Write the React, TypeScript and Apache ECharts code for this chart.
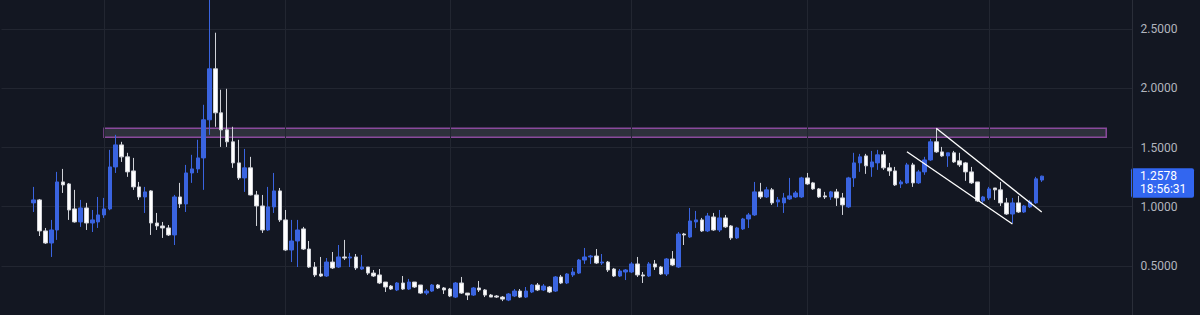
import { useEffect, useRef } from 'react';
import * as echarts from 'echarts';

// daily candles, first one on 2020-12-20: [open, close, low, high]
const ohlc: number[][] = [
  [1.032, 1.057, 0.955, 1.167], [1.057, 0.795, 0.752, 1.065], [0.795, 0.693, 0.685, 0.820], [0.693, 0.803, 0.575, 0.888],
  [0.803, 1.209, 0.719, 1.294], [1.209, 1.184, 1.116, 1.319], [1.192, 0.972, 0.888, 1.200], [0.981, 0.871, 0.865, 1.142],
  [0.871, 0.989, 0.829, 1.057], [0.989, 0.862, 0.803, 1.032], [0.862, 0.888, 0.786, 0.972], [0.871, 0.930, 0.820, 1.082],
  [0.930, 0.981, 0.905, 1.074], [0.981, 1.336, 0.970, 1.480], [1.336, 1.522, 1.285, 1.607], [1.522, 1.421, 1.378, 1.548],
  [1.421, 1.294, 1.252, 1.455], [1.302, 1.167, 1.142, 1.412], [1.167, 1.082, 1.057, 1.209], [1.082, 1.125, 0.947, 1.167],
  [1.133, 0.862, 0.761, 1.140], [0.862, 0.837, 0.803, 0.947], [0.837, 0.820, 0.736, 0.871], [0.820, 0.761, 0.752, 0.845],
  [0.761, 1.082, 0.676, 1.099], [1.082, 1.023, 0.989, 1.201], [1.023, 1.285, 0.955, 1.353], [1.285, 1.319, 1.201, 1.438],
  [1.319, 1.412, 1.285, 1.565], [1.412, 1.734, 1.142, 1.861], [1.734, 2.165, 1.607, 2.800], [2.165, 1.793, 1.675, 2.470],
  [1.793, 1.649, 1.505, 1.988], [1.649, 1.548, 1.505, 1.996], [1.548, 1.370, 1.328, 1.675], [1.370, 1.243, 1.226, 1.565],
  [1.243, 1.328, 1.125, 1.488], [1.328, 1.099, 1.095, 1.421], [1.099, 1.006, 0.837, 1.133], [1.006, 0.803, 0.778, 1.099],
  [0.803, 0.998, 0.795, 1.167], [0.998, 1.133, 0.947, 1.285], [1.133, 0.888, 0.871, 1.158], [0.888, 0.634, 0.626, 0.972],
  [0.634, 0.710, 0.532, 0.888], [0.710, 0.803, 0.490, 0.888], [0.812, 0.642, 0.634, 0.829], [0.642, 0.490, 0.482, 0.710],
  [0.490, 0.423, 0.406, 0.532], [0.431, 0.414, 0.406, 0.575], [0.414, 0.532, 0.406, 0.566], [0.532, 0.482, 0.473, 0.617],
  [0.490, 0.575, 0.482, 0.676], [0.575, 0.566, 0.549, 0.719], [0.566, 0.575, 0.490, 0.609], [0.575, 0.482, 0.465, 0.600],
  [0.473, 0.490, 0.465, 0.592], [0.490, 0.439, 0.423, 0.490], [0.439, 0.414, 0.406, 0.465], [0.423, 0.355, 0.346, 0.473],
  [0.363, 0.321, 0.279, 0.363], [0.329, 0.304, 0.296, 0.338], [0.296, 0.355, 0.287, 0.363], [0.355, 0.304, 0.296, 0.414],
  [0.304, 0.363, 0.296, 0.389], [0.363, 0.321, 0.313, 0.363], [0.338, 0.270, 0.262, 0.338], [0.270, 0.287, 0.253, 0.304],
  [0.287, 0.338, 0.279, 0.346], [0.338, 0.313, 0.304, 0.346], [0.313, 0.296, 0.262, 0.321], [0.304, 0.245, 0.236, 0.313],
  [0.236, 0.355, 0.228, 0.363], [0.355, 0.270, 0.262, 0.406], [0.270, 0.253, 0.211, 0.270], [0.253, 0.313, 0.245, 0.321],
  [0.313, 0.296, 0.279, 0.372], [0.296, 0.253, 0.236, 0.304], [0.253, 0.236, 0.236, 0.262], [0.245, 0.236, 0.228, 0.253],
  [0.236, 0.219, 0.202, 0.245], [0.211, 0.262, 0.202, 0.270], [0.245, 0.287, 0.236, 0.304], [0.287, 0.236, 0.228, 0.304],
  [0.236, 0.287, 0.228, 0.321], [0.279, 0.338, 0.270, 0.346], [0.338, 0.296, 0.287, 0.355], [0.296, 0.329, 0.287, 0.346],
  [0.321, 0.279, 0.270, 0.329], [0.287, 0.406, 0.279, 0.414], [0.406, 0.355, 0.346, 0.423], [0.355, 0.431, 0.346, 0.439],
  [0.423, 0.448, 0.406, 0.482], [0.439, 0.549, 0.431, 0.558], [0.549, 0.575, 0.516, 0.651], [0.575, 0.583, 0.516, 0.592],
  [0.583, 0.524, 0.516, 0.642], [0.524, 0.532, 0.507, 0.600], [0.532, 0.465, 0.448, 0.541], [0.473, 0.414, 0.406, 0.482],
  [0.414, 0.456, 0.406, 0.473], [0.448, 0.465, 0.380, 0.473], [0.448, 0.516, 0.439, 0.532], [0.516, 0.423, 0.406, 0.575],
  [0.423, 0.414, 0.355, 0.448], [0.414, 0.516, 0.406, 0.532], [0.516, 0.490, 0.465, 0.549], [0.490, 0.431, 0.423, 0.499],
  [0.431, 0.558, 0.414, 0.566], [0.558, 0.507, 0.499, 0.625], [0.490, 0.769, 0.482, 0.786], [0.769, 0.761, 0.676, 0.778],
  [0.744, 0.879, 0.736, 0.989], [0.871, 0.888, 0.820, 0.964], [0.888, 0.795, 0.786, 0.905], [0.795, 0.921, 0.786, 0.947],
  [0.913, 0.803, 0.795, 0.947], [0.803, 0.905, 0.786, 0.972], [0.905, 0.829, 0.820, 0.930], [0.837, 0.736, 0.719, 0.845],
  [0.736, 0.820, 0.727, 0.829], [0.812, 0.896, 0.803, 0.905], [0.896, 0.930, 0.820, 0.947], [0.930, 1.125, 0.922, 1.209],
  [1.125, 1.082, 1.065, 1.201], [1.082, 1.142, 1.074, 1.167], [1.142, 1.032, 1.015, 1.158], [1.040, 1.057, 0.998, 1.082],
  [1.032, 1.074, 0.947, 1.116], [1.065, 1.091, 1.057, 1.243], [1.082, 1.116, 1.074, 1.133], [1.082, 1.243, 1.074, 1.252],
  [1.243, 1.192, 1.184, 1.285], [1.201, 1.150, 1.142, 1.209], [1.150, 1.082, 1.074, 1.158], [1.091, 1.082, 1.065, 1.125],
  [1.082, 1.125, 1.057, 1.133], [1.125, 1.074, 1.006, 1.150], [1.074, 1.015, 0.930, 1.116], [0.998, 1.243, 0.989, 1.252],
  [1.243, 1.370, 1.167, 1.455], [1.370, 1.421, 1.294, 1.446], [1.429, 1.345, 1.277, 1.446], [1.336, 1.378, 1.252, 1.471],
  [1.370, 1.438, 1.311, 1.480], [1.438, 1.328, 1.311, 1.471], [1.328, 1.302, 1.260, 1.370], [1.302, 1.184, 1.175, 1.336],
  [1.192, 1.209, 1.158, 1.226], [1.201, 1.353, 1.192, 1.370], [1.353, 1.201, 1.167, 1.370], [1.201, 1.294, 1.192, 1.311],
  [1.294, 1.395, 1.269, 1.421], [1.395, 1.548, 1.387, 1.573], [1.548, 1.463, 1.455, 1.658], [1.463, 1.429, 1.421, 1.505],
  [1.429, 1.455, 1.336, 1.455], [1.455, 1.378, 1.370, 1.471], [1.387, 1.353, 1.336, 1.455], [1.370, 1.294, 1.218, 1.378],
  [1.294, 1.201, 1.192, 1.336], [1.209, 1.049, 1.040, 1.209], [1.049, 1.082, 1.032, 1.091], [1.074, 1.150, 1.057, 1.167],
  [1.158, 1.142, 1.057, 1.158], [1.142, 1.032, 1.006, 1.209], [1.032, 0.938, 0.930, 1.074], [0.938, 1.032, 0.862, 1.074],
  [1.032, 0.955, 0.947, 1.091], [0.955, 1.006, 0.947, 1.015], [0.998, 1.040, 0.989, 1.057], [1.032, 1.235, 1.023, 1.252],
  [1.225, 1.2578, 1.209, 1.262],
];

const FIRST_DAY = Date.UTC(2020, 11, 20);
const LEAD_DAYS = 5;
const TRAIL_DAYS = 15;
const DAY_MS = 86400000;

const monthStarts = ['2021-01-01', '2021-02-01', '2021-03-01', '2021-04-01', '2021-05-01', '2021-06-01'];
const zone = { from: '2021-01-01', to: '2021-06-21', top: 1.662, bottom: 1.586 };
const channelUpper = [['2021-05-23', 1.662], ['2021-06-10', 0.955]];
const channelLower = [['2021-05-18', 1.464], ['2021-06-05', 0.853]];
const priceTicks = { min: 0, max: 3, step: 0.5 };
const lastPrice = 1.2578;
const lastPriceText = '1.2578';
const countdownText = '18:56:31';

const categories: string[] = [];
for (let i = -LEAD_DAYS; i < ohlc.length + TRAIL_DAYS; i++) {
  categories.push(new Date(FIRST_DAY + i * DAY_MS).toISOString().slice(0, 10));
}
const seriesData: any[] = [
  ...Array(LEAD_DAYS).fill('-'),
  ...ohlc,
  ...Array(TRAIL_DAYS).fill('-'),
];

const BG = '#131722';
const UP = '#3a64e0';
const DOWN = '#ffffff';
const GRID = '#222631';
const FONT = 'Roboto, "Noto Sans", sans-serif';

// the price scale spans 0..3, of which only the visible window is shown
const VIEW_TOP = -29.7;
const CANVAS_H = 354.6;

export default function App() {
  const ref = useRef<HTMLDivElement>(null);
  useEffect(() => {
    document.body.style.margin = '0';
    document.body.style.background = BG;
    const chart = echarts.init(ref.current!, undefined, { renderer: 'svg' });
    chart.setOption({
      animation: false,
      backgroundColor: BG,
      grid: { left: 1.46, right: 67.4, top: 0, bottom: 0, outerBoundsMode: 'none', containLabel: false },
      xAxis: {
        type: 'category',
        data: categories,
        boundaryGap: true,
        axisLine: { show: false },
        axisTick: { show: false },
        axisLabel: { show: false },
        splitLine: { show: false },
      },
      yAxis: {
        type: 'value',
        position: 'right',
        min: priceTicks.min,
        max: priceTicks.max,
        interval: priceTicks.step,
        axisLine: { show: true, lineStyle: { color: '#2a2e39', width: 1 } },
        axisTick: { show: false },
        axisLabel: {
          color: '#b2b5be',
          fontSize: 12,
          fontFamily: FONT,
          margin: 8,
          showMinLabel: false,
          showMaxLabel: false,
          formatter: (v: number) => v.toFixed(4),
        },
        splitLine: { show: true, lineStyle: { color: GRID, width: 1 } },
      },
      series: [
        {
          type: 'line',
          data: [],
          silent: true,
          z: 1,
          markLine: {
            silent: true,
            z: 1,
            symbol: 'none',
            label: { show: false },
            lineStyle: { color: GRID, width: 1, type: 'solid' },
            data: monthStarts.map((d) => ({ xAxis: d })),
          },
        },
        {
          type: 'candlestick',
          data: seriesData,
          barWidth: 4,
          z: 2,
          itemStyle: {
            color: UP,
            color0: DOWN,
            borderColor: UP,
            borderColor0: '#d0d2d8',
            borderWidth: 1,
          },
          markArea: {
            silent: true,
            itemStyle: {
              color: 'rgba(128,128,140,0.25)',
              borderColor: '#8a4a9c',
              borderWidth: 1.5,
            },
            data: [[
              { coord: [zone.from, zone.top] },
              { coord: [zone.to, zone.bottom] },
            ]],
          },
          markLine: {
            silent: true,
            symbol: 'none',
            label: { show: false },
            lineStyle: { color: '#ffffff', width: 1.3, type: 'solid' },
            data: [
              [{ coord: channelUpper[0] }, { coord: channelUpper[1] }],
              [{ coord: channelLower[0] }, { coord: channelLower[1] }],
            ],
          },
        },
      ],
    });
    const py = chart.convertToPixel({ yAxisIndex: 0 }, lastPrice) as number;
    chart.setOption({
      graphic: [
        {
          type: 'group',
          children: [
            { type: 'rect', shape: { x: 1131, y: py - 8, width: 63, height: 29.5, r: 2 }, style: { fill: '#3266f0' } },
            { type: 'text', x: 1140, y: py, style: { text: lastPriceText, fill: '#ffffff', fontSize: 12, fontFamily: FONT, verticalAlign: 'middle', align: 'left' } },
            { type: 'text', x: 1140, y: py + 13.3, style: { text: countdownText, fill: '#ffffff', fontSize: 12, fontFamily: FONT, verticalAlign: 'middle', align: 'left' } },
          ],
        },
      ],
    });
    return () => chart.dispose();
  }, []);
  return (
    <div style={{ width: 1200, height: 315, overflow: 'hidden', position: 'relative', background: BG }}>
      <div ref={ref} style={{ position: 'absolute', left: 0, top: VIEW_TOP, width: 1200, height: CANVAS_H }} />
    </div>
  );
}
